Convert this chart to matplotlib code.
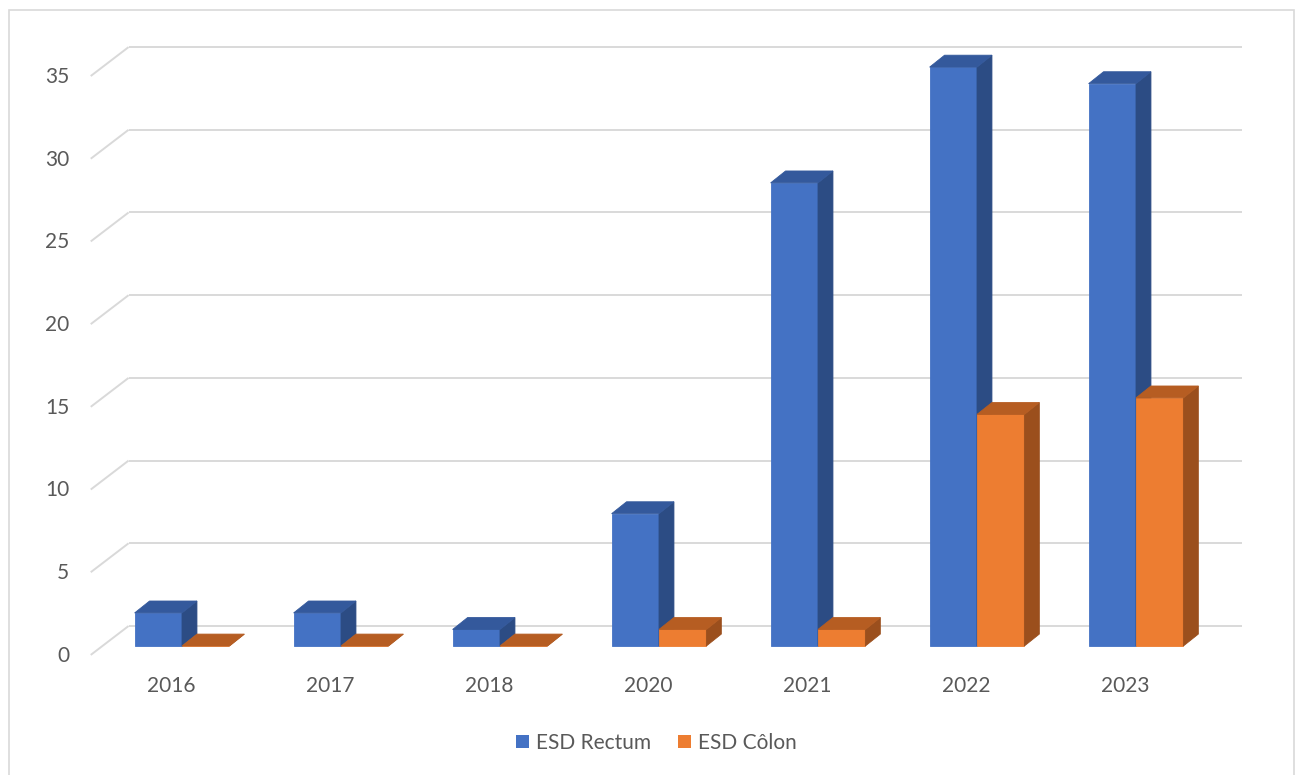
import matplotlib
import matplotlib.pyplot as plt
from matplotlib.patches import Polygon, Patch, Rectangle

matplotlib.use("Agg")

years = ["2016", "2017", "2018", "2020", "2021", "2022", "2023"]
rectum = [2, 2, 1, 8, 28, 35, 34]
colon = [0, 0, 0, 1, 1, 14, 15]
series_names = ["ESD Rectum", "ESD Côlon"]
y_ticks = [0, 5, 10, 15, 20, 25, 30, 35]

# face colours: front, top, side
blue = ("#4472C4", "#34599C", "#2C4C84")
orange = ("#ED7D31", "#B65D22", "#9B4F1D")
grid_color = "#D9D9D9"
text_color = "#595959"

plt.rcParams["font.family"] = ["Lato", "DejaVu Sans"]

# 3D look: depth offset of a bar, of the back wall and of the floor front edge
bar_w = 0.298
bar_dx, bar_dy = 0.094, 0.72
wall_dx, wall_dy = 0.164, 1.21
floor_dx, floor_dy = -0.074, -0.54
x_left, x_right = -0.5, 6.5


def draw_bar(ax, x0, value, colors):
    front, top, side = colors
    faces = [
        ([(x0, 0), (x0 + bar_w, 0), (x0 + bar_w, value), (x0, value)], front),
        ([(x0 + bar_w, 0), (x0 + bar_w + bar_dx, bar_dy),
          (x0 + bar_w + bar_dx, value + bar_dy), (x0 + bar_w, value)], side),
        ([(x0, value), (x0 + bar_w, value),
          (x0 + bar_w + bar_dx, value + bar_dy), (x0 + bar_dx, value + bar_dy)], top),
    ]
    for pts, c in faces:
        ax.add_patch(Polygon(pts, closed=True, facecolor=c, edgecolor=c,
                             linewidth=0.6, zorder=3))


fig = plt.figure(figsize=(13, 7.75), dpi=100)
ax = fig.add_axes([0, 0, 1, 1])
ax.set_xlim(-182 / 159, (1300 - 182) / 159)
ax.set_ylim((646 - 775) / 16.54, 646 / 16.54)
ax.axis("off")

# chart border
fig.patches.append(Rectangle((9 / 1300, -0.01), 1285 / 1300, 1 - 10 / 775 + 0.01,
                             transform=fig.transFigure, fill=False,
                             edgecolor=grid_color, linewidth=1.2))

# gridlines on back wall + diagonal on the left side wall
for v in y_ticks:
    ax.plot([x_left + wall_dx, x_right + wall_dx], [v + wall_dy, v + wall_dy],
            color=grid_color, linewidth=1.4, zorder=1, solid_capstyle="butt")
    ax.plot([x_left + floor_dx, x_left + wall_dx], [v + floor_dy, v + wall_dy],
            color=grid_color, linewidth=1.4, zorder=1, solid_capstyle="butt")
    ax.text(x_left + floor_dx - 0.135, v + floor_dy - 0.05, str(v), ha="right",
            va="center", fontsize=15, color=text_color)

for i, year in enumerate(years):
    draw_bar(ax, i - bar_w, rectum[i], blue)
    draw_bar(ax, i, colon[i], orange)
    ax.text(i - 0.07, -2.4, year, ha="center", va="center",
            fontsize=15, color=text_color)

handles = [Patch(facecolor=blue[0]), Patch(facecolor=orange[0])]
ax.legend(handles, series_names, loc="center", bbox_to_anchor=(0.505, 0.041),
          bbox_transform=fig.transFigure, ncol=2, frameon=False, fontsize=15,
          labelcolor=text_color, handlelength=0.6, handleheight=0.6,
          handletextpad=0.35, columnspacing=1.3)

plt.savefig("out.png")
plt.close()
